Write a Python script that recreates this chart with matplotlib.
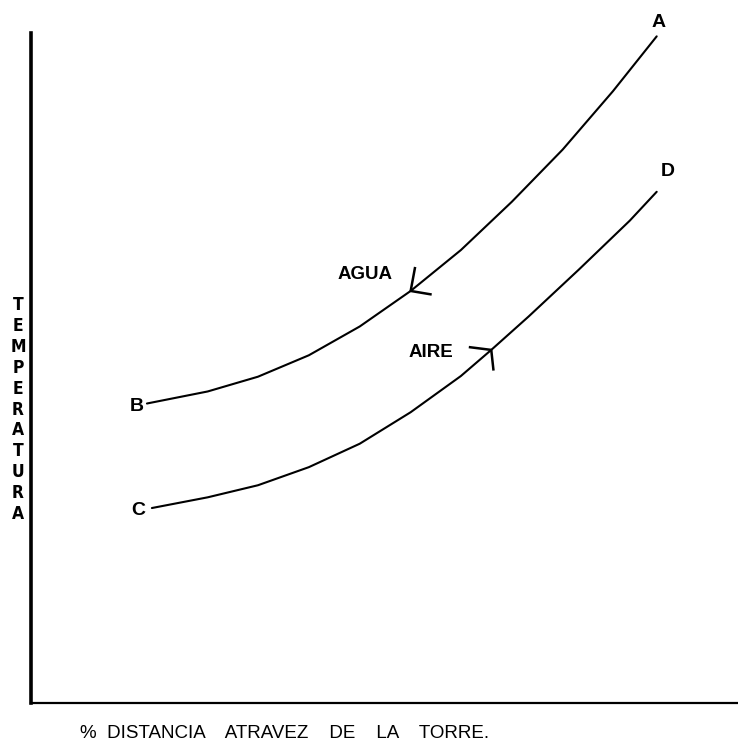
import numpy as np
import matplotlib.pyplot as plt

# curva del agua (B -> A), x = % distancia, y = temperatura (escala relativa)
agua_x = [16.4, 25.0, 32.1, 39.3, 46.5, 53.7, 60.8, 68.0, 75.2, 82.3, 88.5]
agua_y = [44.7, 46.5, 48.7, 51.9, 56.2, 61.5, 67.6, 74.8, 82.6, 91.3, 99.5]

# curva del aire (C -> D)
aire_x = [17.1, 25.0, 32.1, 39.3, 46.5, 53.7, 60.8, 65.1, 70.4, 77.5, 84.7, 88.5]
aire_y = [29.1, 30.7, 32.5, 35.2, 38.7, 43.4, 48.8, 52.7, 57.7, 64.7, 72.0, 76.3]

puntos = ["A", "B", "C", "D"]
puntos_x = [88.8, 14.9, 15.1, 90.0]
puntos_y = [101.6, 44.2, 28.7, 79.3]

fig = plt.figure(figsize=(7.38, 7.42), dpi=100)
ax = fig.add_axes([31/738, 39/742, 707/738, 670/742])
ax.set_xlim(0, 100)
ax.set_ylim(0, 100)

ax.plot(agua_x, agua_y, color="black", lw=1.5, solid_capstyle="round", solid_joinstyle="round")
ax.plot(aire_x, aire_y, color="black", lw=1.5, solid_capstyle="round", solid_joinstyle="round")

# flechas dibujadas a mano sobre las curvas
ax.plot([54.3, 53.7, 56.5], [64.9, 61.5, 61.0], color="black", lw=1.8, clip_on=False)
ax.plot([62.1, 65.1, 65.4], [53.1, 52.7, 49.8], color="black", lw=1.8, clip_on=False)

fuente = "Liberation Sans"
for lab, x, y in zip(puntos, puntos_x, puntos_y):
    ax.text(x, y, lab, ha="center", va="center", fontsize=14, family=fuente,
            fontweight="bold", clip_on=False)
ax.text(47.3, 64.0, "AGUA", ha="center", va="center", fontsize=13.5, family=fuente, fontweight="bold")
ax.text(56.5, 52.3, "AIRE", ha="center", va="center", fontsize=13.5, family=fuente, fontweight="bold")

for s in ["top", "right"]:
    ax.spines[s].set_visible(False)
ax.spines["left"].set_linewidth(2.6)
ax.spines["bottom"].set_linewidth(1.6)
ax.set_xticks([])
ax.set_yticks([])

fig.text(285/738, 1 - 733/742, "%  DISTANCIA    ATRAVEZ    DE    LA    TORRE.",
         ha="center", va="center", fontsize=13.5, family=fuente)

letras = "TEMPERATURA"
for i, ch in enumerate(letras):
    fig.text(18/738, 1 - (305 + i*20.9)/742, ch, ha="center", va="center",
             fontsize=12.5, family="DejaVu Sans", fontstretch="condensed", fontweight="bold")

fig.savefig("out.png", dpi=100)
